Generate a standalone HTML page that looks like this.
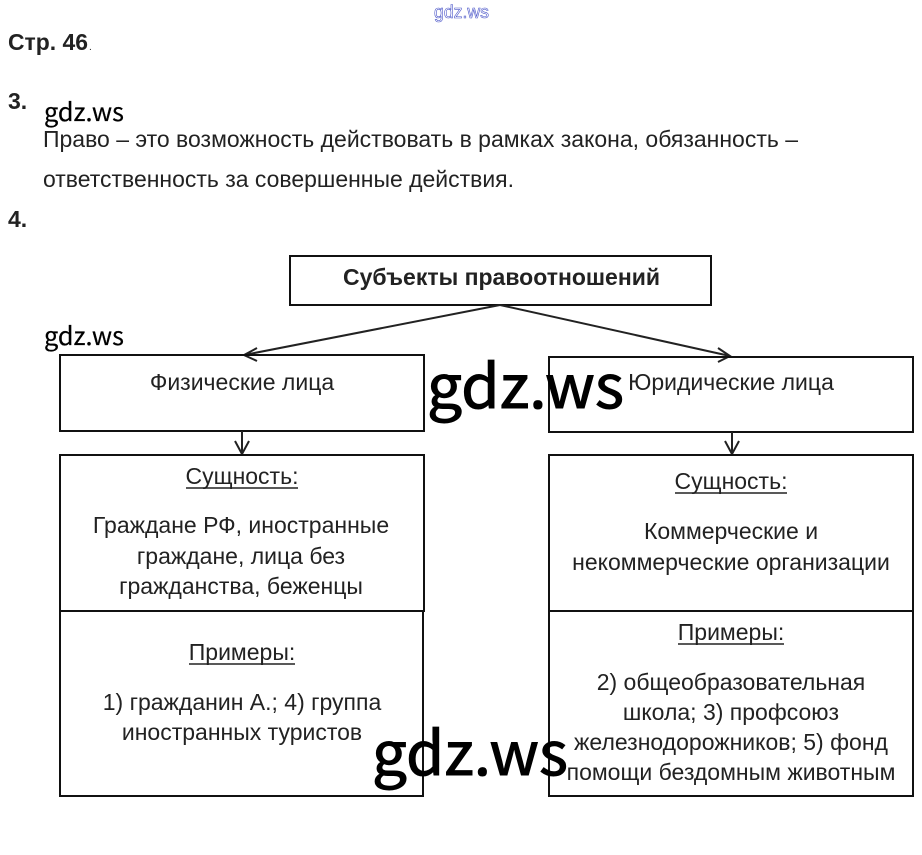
<!DOCTYPE html>
<html><head><meta charset="utf-8"><style>
html,body{margin:0;padding:0;background:#fff}
svg{display:block}
text{font-family:"Liberation Sans",sans-serif;fill:#222;font-size:23px}
.m{text-anchor:middle}
.b{font-weight:bold;fill:#222;font-size:23px}
.w{font-family:"Noto Sans CJK JP","DejaVu Sans",sans-serif;fill:#000;stroke:#000}
rect{fill:none;stroke:#111;stroke-width:2}
.l{fill:none;stroke:#222;stroke-width:2}
</style></head><body>
<svg width="922" height="855" viewBox="0 0 922 855" xmlns="http://www.w3.org/2000/svg">
<rect x="0" y="0" width="922" height="855" style="fill:#fff;stroke:none"/>
<text x="434" y="18" textLength="55" lengthAdjust="spacingAndGlyphs" style="font-size:18px;fill:none;stroke:#4a55c8;stroke-width:.6">gdz.ws</text>
<text class="b" x="8" y="50" textLength="80" lengthAdjust="spacingAndGlyphs">Стр. 46</text>
<text x="89" y="50" style="font-size:10px">.</text>
<text class="b" x="8" y="109">3.</text>
<text class="w" x="44" y="121" textLength="80" lengthAdjust="spacingAndGlyphs" style="font-size:25px;stroke-width:.2">gdz.ws</text>
<text x="43" y="147" textLength="755" lengthAdjust="spacingAndGlyphs">Право – это возможность действовать в рамках закона, обязанность –</text>
<text x="43" y="187" textLength="471" lengthAdjust="spacingAndGlyphs">ответственность за совершенные действия.</text>
<text class="b" x="8" y="227">4.</text>

<rect x="290" y="256" width="421" height="49"/>
<text class="b" x="343" y="285" textLength="317" lengthAdjust="spacingAndGlyphs">Субъекты правоотношений</text>
<path class="l" d="M500 305L244 355M257 348L244 355L257 361"/>
<path class="l" d="M500 305L730 356M718 348L730 356L718 362"/>
<text class="w" x="44" y="345" textLength="80" lengthAdjust="spacingAndGlyphs" style="font-size:25px;stroke-width:.2">gdz.ws</text>

<rect x="60" y="355" width="364" height="76"/>
<rect x="549" y="357" width="364" height="75"/>
<text class="m" x="242" y="390">Физические лица</text>
<text class="m" x="731" y="390">Юридические лица</text>

<path class="l" d="M242 431V454M235 441L242 454L249 441"/>
<path class="l" d="M732 432V454M725 441L732 454L739 441"/>

<rect x="60" y="455" width="364" height="156"/>
<rect x="60" y="611" width="363" height="185"/>
<rect x="549" y="455" width="364" height="156"/>
<rect x="549" y="611" width="364" height="185"/>

<text class="m" x="242" y="484">Сущность:</text>
<path class="l" d="M186 488H298" style="stroke-width:1.4"/>
<text class="m" x="241" y="533">Граждане РФ, иностранные</text>
<text class="m" x="241" y="564">граждане, лица без</text>
<text class="m" x="241" y="594">гражданства, беженцы</text>
<text class="m" x="242" y="660">Примеры:</text>
<path class="l" d="M189 664H295" style="stroke-width:1.4"/>
<text class="m" x="242" y="710">1) гражданин А.; 4) группа</text>
<text class="m" x="242" y="740">иностранных туристов</text>

<text class="m" x="731" y="489">Сущность:</text>
<path class="l" d="M675 493H787" style="stroke-width:1.4"/>
<text class="m" x="731" y="539">Коммерческие и</text>
<text class="m" x="731" y="570">некоммерческие организации</text>
<text class="m" x="731" y="640">Примеры:</text>
<path class="l" d="M678 644H784" style="stroke-width:1.4"/>
<text class="m" x="731" y="690">2) общеобразовательная</text>
<text class="m" x="731" y="720">школа; 3) профсоюз</text>
<text class="m" x="731" y="750">железнодорожников; 5) фонд</text>
<text class="m" x="731" y="780">помощи бездомным животным</text>

<text class="w" x="427" y="408" textLength="197" lengthAdjust="spacingAndGlyphs" style="font-size:60px;stroke-width:1">gdz.ws</text>
<text class="w" x="372" y="775" textLength="196" lengthAdjust="spacingAndGlyphs" style="font-size:60px;stroke-width:1">gdz.ws</text>
</svg>
</body></html>
